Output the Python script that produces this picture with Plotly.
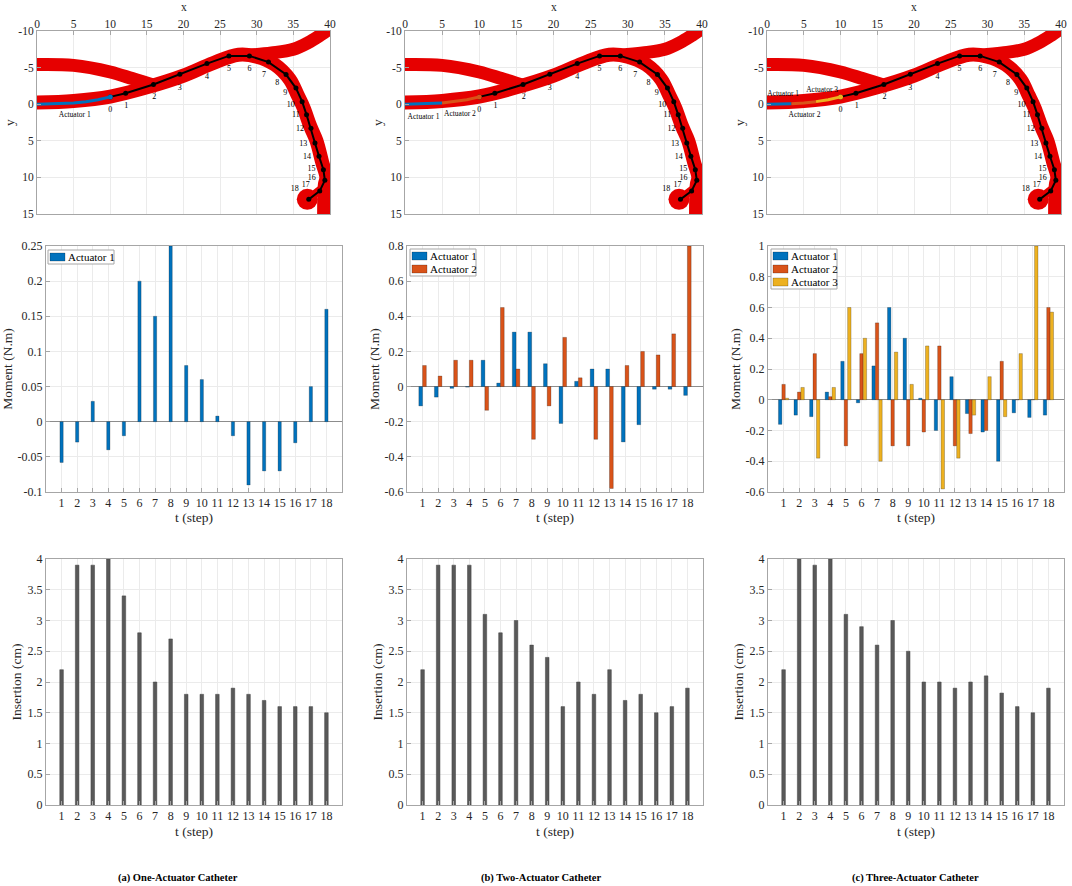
import plotly.graph_objects as go

steps = list(range(1, 19))

# moments per actuator (N.m)
moment_one = [-0.058, -0.029, 0.029, -0.04, -0.02, 0.2, 0.15, 0.25, 0.08, 0.06,
              0.008, -0.02, -0.09, -0.07, -0.07, -0.03, 0.05, 0.16]
moment_two_a1 = [-0.11, -0.06, -0.01, -0.003, 0.15, 0.02, 0.31, 0.31, 0.13, -0.21,
                 0.03, 0.10, 0.10, -0.315, -0.217, -0.015, -0.015, -0.05]
moment_two_a2 = [0.12, 0.06, 0.15, 0.15, -0.135, 0.45, 0.10, -0.30, -0.11, 0.28,
                 0.05, -0.30, -0.58, 0.12, 0.20, 0.18, 0.30, 0.80]
moment_three_a1 = [-0.16, -0.10, -0.11, 0.05, 0.25, -0.02, 0.22, 0.60, 0.40, 0.01,
                   -0.20, 0.15, -0.09, -0.21, -0.40, -0.085, -0.115, -0.10]
moment_three_a2 = [0.10, 0.05, 0.30, 0.02, -0.30, 0.30, 0.50, -0.30, -0.30, -0.21,
                   0.35, -0.30, -0.22, -0.20, 0.25, 0.0, 0.0, 0.60]
moment_three_a3 = [0.01, 0.08, -0.38, 0.08, 0.60, 0.40, -0.40, 0.31, 0.10, 0.35,
                   -0.58, -0.38, -0.10, 0.15, -0.11, 0.30, 1.00, 0.57]

# insertion per step (cm)
insertion_one = [2.2, 3.9, 3.9, 4.0, 3.4, 2.8, 2.0, 2.7, 1.8, 1.8, 1.8, 1.9, 1.8, 1.7, 1.6, 1.6, 1.6, 1.5]
insertion_two = [2.2, 3.9, 3.9, 3.9, 3.1, 2.8, 3.0, 2.6, 2.4, 1.6, 2.0, 1.8, 2.2, 1.7, 1.8, 1.5, 1.6, 1.9]
insertion_three = [2.2, 4.0, 3.9, 4.0, 3.1, 2.9, 2.6, 3.0, 2.5, 2.0, 2.0, 1.9, 2.0, 2.1, 1.82, 1.6, 1.5, 1.9]

# catheter tip path, points 0..18
path_x = [10.0, 12.1, 15.9, 19.5, 23.2, 26.2, 29.0, 31.6, 34.0, 35.35, 36.2, 36.8,
          37.4, 37.95, 38.5, 39.1, 39.3, 38.6, 37.1]
path_y = [-1.0, -1.5, -2.7, -4.1, -5.55, -6.6, -6.6, -5.75, -4.05, -2.2, -0.35, 1.45,
          3.3, 5.3, 7.1, 8.95, 10.4, 11.85, 13.0]
path_labels = [str(i) for i in range(19)]

# actuator body before point 0
act_x = [0, 1.67, 3.33, 5.0, 6.67, 8.33, 10.0]
act_y = [0, -0.02, -0.07, -0.15, -0.35, -0.62, -1.0]

# vessel centrelines
vessel_main_x = [-1, 5, 10, 15, 20, 24, 27.5, 30, 32.5, 34.5, 35.6, 36.4, 37.3, 38.15, 38.95, 39.5, 39.3, 39.2]
vessel_main_y = [-0.2, -0.45, -1.05, -2.3, -3.9, -5.6, -6.75, -6.5, -5.4, -3.4, -1.2, 0.5, 3.0, 5.0, 8.0, 10.0, 11.0, 16.0]
vessel_left_x = [-1, 5, 10, 13, 16.5]
vessel_left_y = [-5.4, -5.3, -4.4, -3.5, -2.4]
vessel_right_x = [29, 32, 35, 37, 38.8, 41]
vessel_right_y = [-6.7, -7.0, -7.5, -8.4, -9.5, -11]
vessel_loop_x = [36.9, 38.4, 39.3]
vessel_loop_y = [13.0, 11.9, 11.2]

BLUE, ORANGE, YELLOW = "#0072BD", "#D95319", "#EDB120"
GRAY_BAR = "#595959"
VESSEL = "#e60000"
FONT = "Liberation Serif, Times New Roman, serif"

FIG_W, FIG_H = 1072, 886


def fx(px):
    return px / FIG_W


def fy(py):
    return 1 - py / FIG_H


panels = [
    dict(caption="(a) One-Actuator Catheter", cap_x=178,
         moments=[moment_one], insertion=insertion_one,
         width=0.21, offsets=[-0.105],
         segments=[(0, 6)],
         act_labels=[("Actuator 1", 5.15, 1.45)]),
    dict(caption="(b) Two-Actuator Catheter", cap_x=541,
         moments=[moment_two_a1, moment_two_a2], insertion=insertion_two,
         width=0.24, offsets=[-0.24, 0.0],
         segments=[(0, 3), (3, 6)],
         act_labels=[("Actuator 1", 2.5, 1.7), ("Actuator 2", 7.4, 1.35)]),
    dict(caption="(c) Three-Actuator Catheter", cap_x=915,
         moments=[moment_three_a1, moment_three_a2, moment_three_a3], insertion=insertion_three,
         width=0.22, offsets=[-0.33, -0.11, 0.11],
         segments=[(0, 2), (2, 4), (4, 6)],
         act_labels=[("Actuator 1", 2.2, -1.35), ("Actuator 2", 5.1, 1.5), ("Actuator 3", 7.5, -1.95)]),
]
colors = [BLUE, ORANGE, YELLOW]

# label offsets from each path point
label_dx = [0, 0.1, 0.1, 0, 0, 0, 0, -0.6, -1.2, -1.45, -1.57, -1.47, -1.51, -1.6, -1.64, -1.63, -1.8, -1.9, -1.9]
label_dy = [1.75, 1.73, 1.73, 1.83, 1.86, 1.78, 1.82, 1.78, 1.15, 0.62, 0.4, 0.09, 0.09, 0.09, 0.13, -0.09, -0.36, -0.76, -1.4]

top_dom = [(fx(37), fx(330)), (fx(405), fx(702)), (fx(767), fx(1061))]
chart_dom = [(fx(46), fx(342)), (fx(407), fx(703)), (fx(768), fx(1064))]
row_top = (fy(214), fy(31))
row_mid = (fy(492), fy(246))
row_bot = (fy(805), fy(559))
legend_box = [(48, 250), (410, 249), (771, 249)]


def key(letter, n):
    return f"{letter}axis" if n == 1 else f"{letter}axis{n}"


def ref(letter, n):
    return letter if n == 1 else f"{letter}{n}"


def labels(vals):
    return ["%g" % v for v in vals]


AX = dict(showline=True, mirror=True, linecolor="#a6a6a6", linewidth=1,
          showgrid=True, gridcolor="#ebebeb", gridwidth=1,
          ticks="inside", ticklen=4, tickcolor="#a6a6a6", zeroline=False,
          automargin=False,
          tickfont=dict(family=FONT, size=12, color="#262626"))
TITLE_FONT = dict(family=FONT, size=13.5, color="#262626")
SMALL_TICK = dict(family=FONT, size=11.5, color="#262626")

fig = go.Figure()
layout = {}
annotations = []
shapes = []

for i, p in enumerate(panels):
    nt, nm, nb = i + 1, i + 4, i + 7
    xt, yt = ref("x", nt), ref("y", nt)

    # vessel
    for vx, vy, w in [(vessel_main_x, vessel_main_y, 14), (vessel_left_x, vessel_left_y, 13),
                      (vessel_right_x, vessel_right_y, 13), (vessel_loop_x, vessel_loop_y, 8)]:
        fig.add_trace(go.Scatter(x=vx, y=vy, mode="lines", xaxis=xt, yaxis=yt,
                                 line=dict(color=VESSEL, width=w, shape="spline"),
                                 showlegend=False, hoverinfo="skip"))
    fig.add_trace(go.Scatter(x=[vessel_loop_x[0]], y=[vessel_loop_y[0]], mode="markers",
                             xaxis=xt, yaxis=yt, marker=dict(color=VESSEL, size=21),
                             showlegend=False, hoverinfo="skip"))

    # catheter path
    fig.add_trace(go.Scatter(x=path_x, y=path_y, mode="lines+markers", xaxis=xt, yaxis=yt,
                             line=dict(color="black", width=2),
                             marker=dict(color="black", size=5), showlegend=False))
    fig.add_trace(go.Scatter(x=[x + dx for x, dx in zip(path_x, label_dx)],
                             y=[y + dy for y, dy in zip(path_y, label_dy)],
                             text=path_labels, mode="text", xaxis=xt, yaxis=yt,
                             textfont=dict(family=FONT, size=8, color="black"),
                             showlegend=False, hoverinfo="skip"))

    # actuator segments
    for k, (a, b) in enumerate(p["segments"]):
        fig.add_trace(go.Scatter(x=act_x[a:b + 1], y=act_y[a:b + 1], mode="lines",
                                 xaxis=xt, yaxis=yt, line=dict(color=colors[k], width=3),
                                 showlegend=False))
    last = len(p["segments"]) - 1
    fig.add_trace(go.Scatter(x=[act_x[-1]], y=[act_y[-1]], mode="markers", xaxis=xt, yaxis=yt,
                             marker=dict(color=colors[last], size=5), showlegend=False))
    fig.add_trace(go.Scatter(x=[t[1] for t in p["act_labels"]], y=[t[2] for t in p["act_labels"]],
                             text=[t[0] for t in p["act_labels"]], mode="text", xaxis=xt, yaxis=yt,
                             textfont=dict(family=FONT, size=7.5, color="black"),
                             showlegend=False, hoverinfo="skip"))

    xticks = list(range(0, 41, 5))
    yticks = list(range(-10, 16, 5))
    layout[key("x", nt)] = dict(AX, domain=top_dom[i], anchor=yt, side="top", range=[0, 40],
                                tickvals=xticks, ticktext=labels(xticks), tickfont=SMALL_TICK,
                                ticklabelstandoff=-3)
    layout[key("y", nt)] = dict(AX, domain=row_top, anchor=xt, range=[15, -10],
                                tickvals=yticks, ticktext=labels(yticks), tickfont=SMALL_TICK,
                                title=dict(text="y", font=TITLE_FONT, standoff=0))
    annotations.append(dict(text="x", x=sum(top_dom[i]) / 2, y=1, xref="paper", yref="paper",
                            xanchor="center", yanchor="top", showarrow=False, borderpad=0,
                            font=dict(family=FONT, size=11.5, color="#262626")))

    # moments
    xm, ym = ref("x", nm), ref("y", nm)
    for k, vals in enumerate(p["moments"]):
        fig.add_trace(go.Bar(x=steps, y=vals, name=f"Actuator {k + 1}", xaxis=xm, yaxis=ym,
                             width=p["width"], offset=p["offsets"][k],
                             marker=dict(color=colors[k], line=dict(color="rgba(0,0,0,0.45)", width=0.5)),
                             showlegend=False))
    mrange = [[-0.1, 0.25], [-0.6, 0.8], [-0.6, 1.0]][i]
    mticks = [[-0.1, -0.05, 0, 0.05, 0.1, 0.15, 0.2, 0.25],
              [-0.6, -0.4, -0.2, 0, 0.2, 0.4, 0.6, 0.8],
              [-0.6, -0.4, -0.2, 0, 0.2, 0.4, 0.6, 0.8, 1]][i]
    layout[key("x", nm)] = dict(AX, domain=chart_dom[i], anchor=ym, range=[0, 19], tickvals=steps,
                                title=dict(text="t (step)", font=TITLE_FONT, standoff=1))
    layout[key("y", nm)] = dict(AX, domain=row_mid, anchor=xm, range=mrange,
                                tickvals=mticks, ticktext=labels(mticks),
                                zeroline=True, zerolinecolor="#8c8c8c", zerolinewidth=1,
                                title=dict(text="Moment (N.m)", font=TITLE_FONT, standoff=1))

    # compact legend box, MATLAB style
    bx, by = legend_box[i]
    n = len(p["moments"])
    shapes.append(dict(type="rect", xref="paper", yref="paper",
                       x0=fx(bx), x1=fx(bx + 66), y0=fy(by + 1 + 13 * n), y1=fy(by),
                       line=dict(color="#a6a6a6", width=1), fillcolor="white", layer="above"))
    for k in range(n):
        cy = by + 7 + 13 * k
        shapes.append(dict(type="rect", xref="paper", yref="paper",
                           x0=fx(bx + 2), x1=fx(bx + 17), y0=fy(cy + 4), y1=fy(cy - 4),
                           line=dict(color="rgba(0,0,0,0.45)", width=0.5), fillcolor=colors[k],
                           layer="above"))
        annotations.append(dict(text=f"Actuator {k + 1}", x=fx(bx + 18), y=fy(cy), xref="paper",
                                yref="paper", xanchor="left", yanchor="middle", showarrow=False,
                                font=dict(family=FONT, size=11, color="black")))

    # insertion
    xb, yb = ref("x", nb), ref("y", nb)
    fig.add_trace(go.Bar(x=steps, y=p["insertion"], xaxis=xb, yaxis=yb, width=0.23, offset=-0.115,
                         marker=dict(color=GRAY_BAR, line=dict(color="#404040", width=0.5)),
                         showlegend=False))
    iticks = [0, 0.5, 1, 1.5, 2, 2.5, 3, 3.5, 4]
    layout[key("x", nb)] = dict(AX, domain=chart_dom[i], anchor=yb, range=[0, 19], tickvals=steps,
                                title=dict(text="t (step)", font=TITLE_FONT, standoff=4))
    layout[key("y", nb)] = dict(AX, domain=row_bot, anchor=xb, range=[0, 4],
                                tickvals=iticks, ticktext=labels(iticks),
                                title=dict(text="Insertion (cm)", font=TITLE_FONT, standoff=2))

    annotations.append(dict(text=f"<b>{p['caption']}</b>", x=fx(p["cap_x"]), y=fy(878),
                            xref="paper", yref="paper", xanchor="center", yanchor="middle",
                            showarrow=False, font=dict(family=FONT, size=10.5, color="black")))

fig.update_layout(width=FIG_W, height=FIG_H, margin=dict(l=0, r=0, t=0, b=0),
                  paper_bgcolor="white", plot_bgcolor="white", barmode="overlay",
                  showlegend=False, annotations=annotations, shapes=shapes, **layout)

fig.write_html("out.html", config={"displayModeBar": False},
               post_script="document.body.style.margin='0';document.body.style.overflow='hidden';")
